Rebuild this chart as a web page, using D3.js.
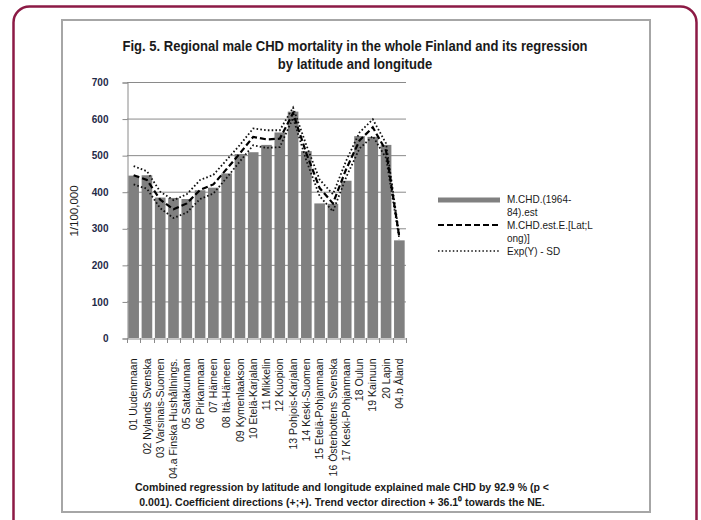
<!DOCTYPE html>
<html>
<head>
<meta charset="utf-8">
<script src="https://cdn.jsdelivr.net/npm/d3@7"></script>
<style>
  body { margin: 0; background: #fff; }
  svg { display: block; }
</style>
</head>
<body>
<script>
// Regions (x categories)
var regions = [
    "01 Uudenmaan", "02 Nylands Svenska", "03 Varsinais-Suomen", "04.a Finska Hushållnings.",
    "05 Satakunnan", "06 Pirkanmaan", "07 Hämeen", "08 Itä-Hämeen", "09 Kymenlaakson",
    "10 Etelä-Karjalan", "11 Mikkelin", "12 Kuopion", "13 Pohjois-Karjalan", "14 Keski-Suomen",
    "15 Etelä-Pohjanmaan", "16 Österbottens Svenska", "17 Keski-Pohjanmaan", "18 Oulun",
    "19 Kainuun", "20 Lapin", "04.b Åland"
];

// M.CHD.(1964-84).est  (bars)
var observed = [444, 445, 384, 383, 380, 404, 411, 450, 503, 508, 528, 562, 619, 511, 368, 367, 430, 552, 550, 528, 267];

// M.CHD.est.E.[Lat;Long)]  (dashed)
var estimate = [445, 432, 378, 352, 368, 405, 420, 462, 505, 550, 543, 545, 615, 505, 410, 368, 462, 540, 576, 512, 275];

// Exp(Y) + SD / Exp(Y) - SD  (dotted)
var upperSD = [470, 456, 400, 377, 393, 432, 446, 487, 528, 573, 568, 568, 630, 527, 433, 393, 485, 562, 598, 532, 280];
var lowerSD = [420, 408, 355, 328, 343, 380, 395, 438, 483, 527, 520, 522, 602, 485, 388, 346, 440, 518, 552, 492, 270];

var yTicks = [0, 100, 200, 300, 400, 500, 600, 700];

var titleLines = [
    "Fig. 5. Regional male CHD mortality in the whole Finland and its regression",
    "by latitude and longitude"
];
var noteLines = [
    "Combined regression by latitude and  longitude explained  male CHD by 92.9 % (p <",
    "0.001). Coefficient directions (+;+). Trend vector direction + 36.1\u2070 towards the NE."
];
var legendLines = [
    ["M.CHD.(1964-", 199], ["84).est", 212],
    ["M.CHD.est.E.[Lat;L", 225], ["ong)]", 238],
    ["Exp(Y) - SD", 251]
];

var width = 701, height = 520;
var font = "'Liberation Sans', Arial, sans-serif";

var svg = d3.select("body").append("svg")
    .attr("width", width)
    .attr("height", height);

// outer rounded border
svg.append("rect")
    .attr("x", 13.5).attr("y", 6.5)
    .attr("width", 683).attr("height", 530)
    .attr("rx", 16).attr("ry", 16)
    .attr("fill", "none")
    .attr("stroke", "#8c1a45")
    .attr("stroke-width", 2.5);

// chart frame
svg.append("rect")
    .attr("x", 62).attr("y", 20)
    .attr("width", 588).attr("height", 492)
    .attr("fill", "#fff")
    .attr("stroke", "#a6a6a6")
    .attr("stroke-width", 2);

// scales
var x = d3.scaleBand()
    .domain(regions)
    .range([127, 406])
    .paddingInner(0.2)
    .paddingOuter(0.1);

var y = d3.scaleLinear()
    .domain([0, 700])
    .range([338, 82]);

// title (squeezed horizontally to mimic a narrow font)
svg.append("g").selectAll("text")
    .data(titleLines)
    .enter().append("text")
    .attr("transform", function(d, i) { return "translate(355," + (51 + i * 18) + ") scale(0.87,1)"; })
    .attr("text-anchor", "middle")
    .style("font-family", font)
    .style("font-weight", "bold")
    .style("font-size", "15px")
    .style("fill", "#1a1a1a")
    .text(function(d) { return d; });

// gridlines
svg.append("g")
    .selectAll("line")
    .data(yTicks.filter(function(d) { return d > 0; }))
    .enter().append("line")
    .attr("x1", 127).attr("x2", 406)
    .attr("y1", function(d) { return y(d) + 0.5; })
    .attr("y2", function(d) { return y(d) + 0.5; })
    .attr("stroke", "#8a8a8a")
    .attr("stroke-width", 1);

// y axis
var yAxis = svg.append("g")
    .attr("transform", "translate(127.5,0.5)")
    .call(d3.axisLeft(y).tickValues(yTicks).tickSize(5).tickPadding(14));
yAxis.select(".domain").attr("stroke", "#8a8a8a");
yAxis.selectAll(".tick line").attr("stroke", "#8a8a8a");
yAxis.selectAll("text")
    .style("font-family", font)
    .style("font-weight", "bold")
    .style("font-size", "10px")
    .style("fill", "#1f2a48");

// y axis title
svg.append("text")
    .attr("transform", "translate(78,211) rotate(-90)")
    .attr("text-anchor", "middle")
    .style("font-family", font)
    .style("font-size", "11.5px")
    .style("fill", "#1a1a1a")
    .text("1/100,000");

// bars
svg.append("g")
    .selectAll("rect")
    .data(observed)
    .enter().append("rect")
    .attr("x", function(d, i) { return x(regions[i]); })
    .attr("y", function(d) { return y(d); })
    .attr("width", x.bandwidth())
    .attr("height", function(d) { return y(0) - y(d); })
    .attr("fill", "#808080");

// x axis
var xAxis = svg.append("g")
    .attr("transform", "translate(0,338.5)")
    .call(d3.axisBottom(x).tickSize(0).tickPadding(0));
xAxis.select(".domain").attr("stroke", "#8a8a8a");
xAxis.selectAll(".tick text")
    .attr("transform", "translate(0,20) rotate(-90)")
    .attr("text-anchor", "end")
    .attr("dy", "0.35em")
    .attr("x", 0).attr("y", 0)
    .style("font-family", font)
    .style("font-size", "10.5px")
    .style("fill", "#1a1a1a");

// tick marks at category boundaries
var step = x.step();
var bounds = regions.map(function(r) { return x(r) - x.paddingInner() * step / 2; });
bounds.push(406);
svg.append("g")
    .selectAll("line")
    .data(bounds)
    .enter().append("line")
    .attr("x1", function(d) { return Math.round(d) + 0.5; })
    .attr("x2", function(d) { return Math.round(d) + 0.5; })
    .attr("y1", 338).attr("y2", 343)
    .attr("stroke", "#8a8a8a");

// lines
var line = d3.line()
    .x(function(d, i) { return x(regions[i]) + x.bandwidth() / 2; })
    .y(function(d) { return y(d); });

svg.append("path")
    .datum(upperSD)
    .attr("d", line)
    .attr("fill", "none")
    .attr("stroke", "#111")
    .attr("stroke-width", 1.8)
    .attr("stroke-dasharray", "1.6,2.2");

svg.append("path")
    .datum(lowerSD)
    .attr("d", line)
    .attr("fill", "none")
    .attr("stroke", "#111")
    .attr("stroke-width", 1.8)
    .attr("stroke-dasharray", "1.6,2.2");

svg.append("path")
    .datum(estimate)
    .attr("d", line)
    .attr("fill", "none")
    .attr("stroke", "#000")
    .attr("stroke-width", 2.2)
    .attr("stroke-dasharray", "6,3");

// legend
var legend = svg.append("g").attr("transform", "translate(438,0)");
legend.append("rect")
    .attr("x", 0).attr("y", 197.5)
    .attr("width", 62).attr("height", 5)
    .attr("fill", "#808080");
legend.append("line")
    .attr("x1", 0).attr("x2", 62)
    .attr("y1", 225).attr("y2", 225)
    .attr("stroke", "#000").attr("stroke-width", 2.2)
    .attr("stroke-dasharray", "6,3");
legend.append("line")
    .attr("x1", 0).attr("x2", 62)
    .attr("y1", 251).attr("y2", 251)
    .attr("stroke", "#111").attr("stroke-width", 1.5)
    .attr("stroke-dasharray", "1.5,2.2");

legend.selectAll("text")
    .data(legendLines)
    .enter().append("text")
    .attr("transform", function(d) { return "translate(69," + d[1] + ") scale(0.95,1)"; })
    .attr("dy", "0.35em")
    .style("font-family", font)
    .style("font-size", "10.5px")
    .style("fill", "#1a1a1a")
    .text(function(d) { return d[0]; });

// footnote
svg.append("g").selectAll("text")
    .data(noteLines)
    .enter().append("text")
    .attr("transform", function(d, i) { return "translate(342," + (491 + i * 15) + ") scale(0.92,1)"; })
    .attr("text-anchor", "middle")
    .style("font-family", font)
    .style("font-weight", "bold")
    .style("font-size", "11.5px")
    .style("fill", "#1a1a1a")
    .text(function(d) { return d; });
</script>
</body>
</html>
